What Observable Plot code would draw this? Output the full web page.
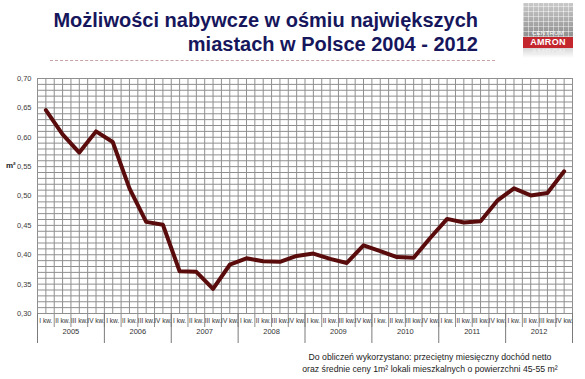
<!DOCTYPE html>
<html>
<head>
<meta charset="utf-8">
<script src="https://cdn.jsdelivr.net/npm/d3@7"></script>
<script src="https://cdn.jsdelivr.net/npm/@observablehq/plot@0.6"></script>
<style>
  html, body { margin: 0; padding: 0; background: #fff; }
  #wrap { position: relative; width: 585px; height: 379px; overflow: hidden; font-family: "Liberation Sans", Arial, sans-serif; }
  #header { position: relative; height: 65px; }
  .title { position: absolute; right: 107px; font-weight: bold; font-size: 20px; color: #16165c; white-space: nowrap; line-height: 24px; }
  #dash { position: absolute; left: 50px; top: 60px; width: 445px; border-top: 1px dashed #c9a3a3; }
  #logo { position: absolute; left: 523px; top: 3px; width: 50px; }
  #logo .top { height: 34px; background:
      repeating-linear-gradient(90deg, rgba(255,255,255,0.45) 0 1px, transparent 1px 5px),
      repeating-linear-gradient(0deg, rgba(255,255,255,0.45) 0 1px, transparent 1px 5px),
      linear-gradient(#c9c9c9, #8f8f8f); position: relative; }
  #logo .cent { position: absolute; bottom: 1px; left: 0; width: 50px; text-align: center; font-size: 6px; color: #fff; letter-spacing: 0.3px; }
  #logo .amron { height: 11px; background: #c4262e; color: #fff; font-weight: bold; font-size: 9px; line-height: 11px; text-align: center; letter-spacing: 0.3px; }
  #logo .refl { height: 10px; background: linear-gradient(#d6d6d6, #ffffff); color: #eee; font-weight: bold; font-size: 9px; line-height: 8px; text-align: center; overflow: hidden; }
  #m2 { position: absolute; left: 6px; top: 161px; font-size: 8px; color: #222; font-weight: bold; }
  #foot { position: absolute; top: 351px; left: 280px; width: 300px; text-align: center; font-size: 8.7px; line-height: 12px; color: #222; }
</style>
</head>
<body>
<div id="wrap">
  <div id="header">
    <div class="title" style="top:8px">Możliwości nabywcze w ośmiu największych</div>
    <div class="title" style="top:32px">miastach w Polsce 2004 - 2012</div>
    <div id="dash"></div>
    <div id="logo">
      <div class="top"><div class="cent">CENTRUM</div></div>
      <div class="amron">AMRON</div>
      <div class="refl">AMRON</div>
    </div>
  </div>
  <div id="chart"></div>
  <div id="m2">m²</div>
  <div id="foot">Do obliczeń wykorzystano: przeciętny miesięczny dochód netto<br>oraz średnie ceny 1m² lokali mieszkalnych o powierzchni 45-55 m²</div>
</div>
<script>
const quarters = ["I kw.", "II kw.", "III kw.", "IV kw."];
const years = [2005, 2006, 2007, 2008, 2009, 2010, 2011, 2012];
const values = [
  0.646, 0.605, 0.574, 0.610,
  0.592, 0.513, 0.456, 0.451,
  0.372, 0.371, 0.342, 0.383,
  0.394, 0.389, 0.388, 0.398,
  0.402, 0.393, 0.386, 0.416,
  0.406, 0.396, 0.395, 0.429,
  0.461, 0.455, 0.457, 0.492,
  0.513, 0.501, 0.505, 0.542
];
const yTicks = [0.30, 0.35, 0.40, 0.45, 0.50, 0.55, 0.60, 0.65, 0.70];

const data = values.map((v, i) => ({ i, v, q: quarters[i % 4], year: years[Math.floor(i / 4)] }));
const n = values.length;
const minorY = d3.range(30, 71).map(d => d / 100);
const halfX = d3.range(0, 2 * n + 1).map(d => d / 2);
const bounds = d3.range(0, n + 1);
const yearBounds = d3.range(0, n + 1, 4);

const W = 585, H = 285, mT = 13, mB = 37, mL = 37, mR = 13;
const plotH = H - mT - mB;
const grid = "#8f8f8f";

const chart = Plot.plot({
  width: W, height: H,
  marginTop: mT, marginBottom: mB, marginLeft: mL, marginRight: mR,
  style: { fontFamily: "Liberation Sans, Arial, sans-serif", fontSize: "7.5px", color: "#404040", background: "transparent" },
  x: { domain: [0, n], axis: null },
  y: { domain: [0.30, 0.70], ticks: yTicks, tickFormat: d => d.toFixed(2).replace(".", ","), tickSize: 0, tickPadding: 6, label: null },
  marks: [
    Plot.ruleY(minorY, { stroke: grid, strokeWidth: 1 }),
    Plot.ruleX(halfX, { stroke: grid, strokeWidth: 1 }),
    Plot.ruleX(bounds, { stroke: grid, strokeWidth: 1, insetTop: plotH, insetBottom: -14 }),
    Plot.ruleX(yearBounds, { stroke: "#7a7a7a", strokeWidth: 1, insetTop: plotH, insetBottom: -30 }),
    Plot.line(data, { x: d => d.i + 0.5, y: "v", stroke: "#5a0b0b", strokeWidth: 4, strokeLinejoin: "round" }),
    Plot.text(data, { x: d => d.i + 0.5, text: "q", frameAnchor: "bottom", dy: 9, fontSize: 6.5, fill: "#333" }),
    Plot.text(years, { x: (d, i) => i * 4 + 2, text: d => String(d), frameAnchor: "bottom", dy: 20, fontSize: 7.5, fill: "#333" })
  ]
});
document.getElementById("chart").appendChild(chart);
</script>
</body>
</html>
